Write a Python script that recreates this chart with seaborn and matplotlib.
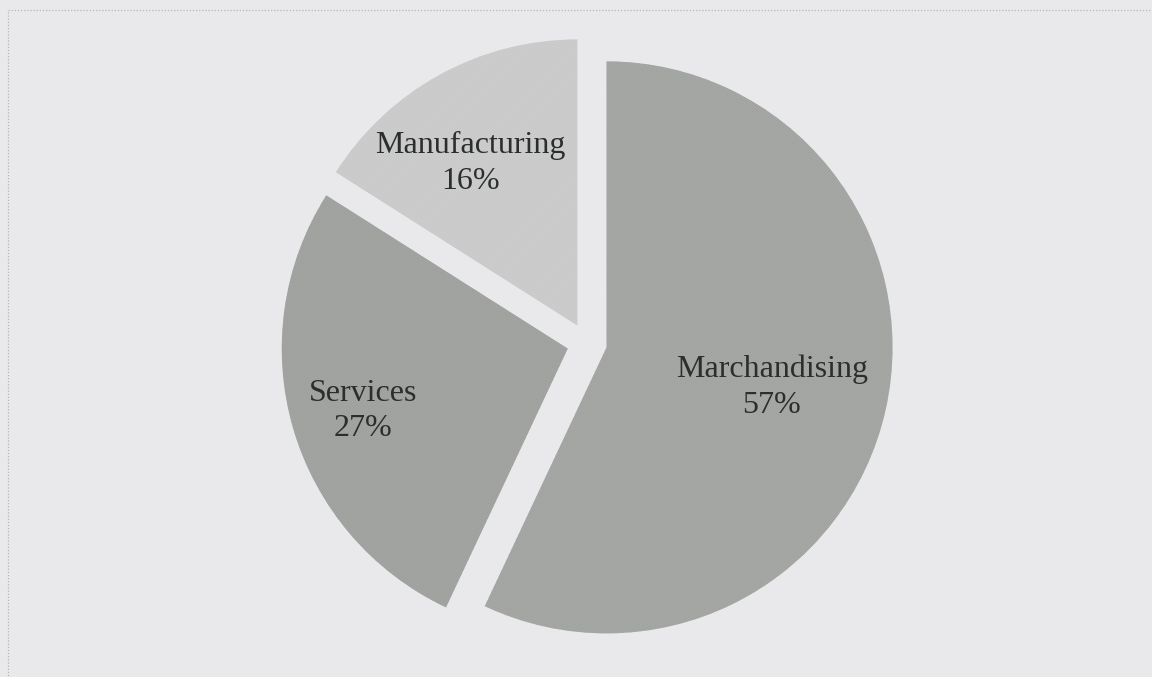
import numpy as np
import matplotlib
matplotlib.use("Agg")
import matplotlib.pyplot as plt
from matplotlib.patches import Rectangle
import seaborn as sns

# Share of firms by type of business
categories = ["Marchandising", "Services", "Manufacturing"]
shares = [57, 27, 16]
pct_labels = ["57%", "27%", "16%"]

sns.set_theme(style="white", rc={"figure.facecolor": "#e9e9eb",
                                 "axes.facecolor": "#e9e9eb",
                                 "hatch.linewidth": 0.5})
plt.rcParams["font.family"] = ["Liberation Serif", "DejaVu Serif"]

W, H, DPI = 1152, 677, 100
fig = plt.figure(figsize=(W / DPI, H / DPI), dpi=DPI)
ax = fig.add_axes([0, 0, 1, 1])

# pie geometry in pixels
cx, cy, R = 587, 343, 286

fills = ["#a9aba8", "#a6a8a5", "#d0d0d0"]
grain = ["#9b9d9a", "#989a97", "#c2c2c2"]
wedges, _ = ax.pie(
    shares,
    colors=fills,
    startangle=90,
    counterclock=False,
    explode=[0.07, 0.07, 0.07],
    radius=1.0,
    wedgeprops=dict(linewidth=0),
)
# fine diagonal grain over each slice
for w, g in zip(wedges, grain):
    w.set_hatch("////////////")
    w.set_edgecolor(g)
    w.set_linewidth(0)

# label placement: distance from pie centre and angular nudge per slice
label_r = [0.665, 0.818, 0.748]
label_nudge = [-0.9, 0.7, 4.2]
for w, name, pct, lr, nd in zip(wedges, categories, pct_labels,
                                label_r, label_nudge):
    mid = np.deg2rad((w.theta1 + w.theta2) / 2 + nd)
    x, y = lr * np.cos(mid), lr * np.sin(mid)
    ax.text(x, y, f"{name}\n{pct}", ha="center", va="center",
            fontsize=23, color="#2b2f2b", linespacing=1.3)

ax.set_aspect("auto")
ax.set_xlim(-cx / R, (W - cx) / R)
ax.set_ylim(-(H - cy) / R, cy / R)
ax.axis("off")

# dotted frame running off the right and bottom edges
frame = Rectangle((8 / W, -0.05), 1.2, 1 - 10 / H + 0.05,
                  transform=fig.transFigure, fill=False,
                  edgecolor="#b5b5b8", linestyle=(0, (1, 1.5)),
                  linewidth=0.9)
fig.add_artist(frame)

fig.savefig("out.png", dpi=DPI, facecolor=fig.get_facecolor())
